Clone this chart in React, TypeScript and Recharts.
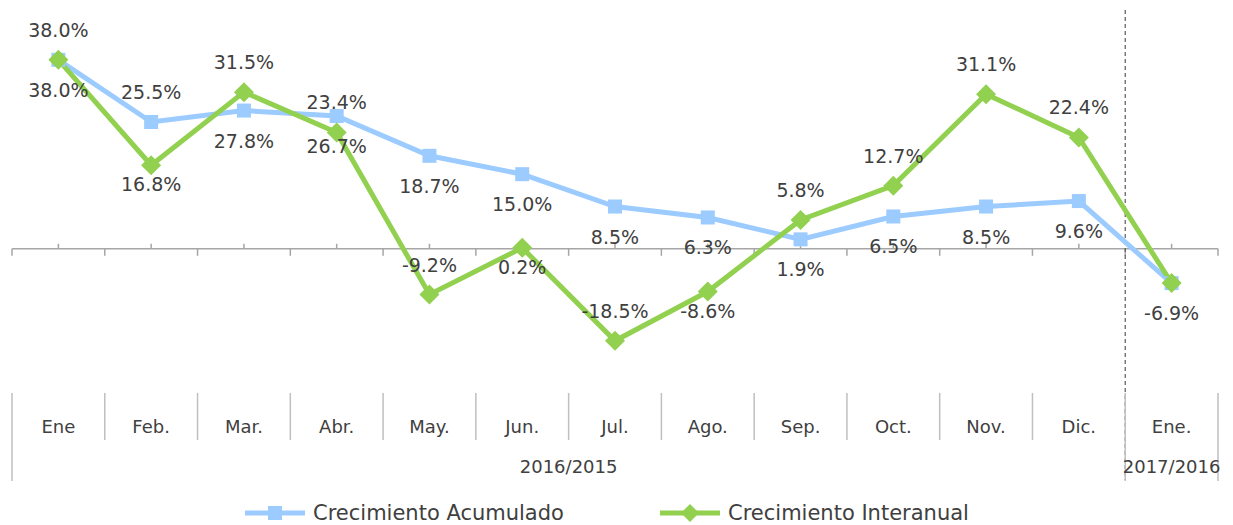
import React from 'react';
import { LineChart, Line, XAxis, YAxis, ReferenceLine, LabelList, Legend } from 'recharts';

const months = ['Ene', 'Feb.', 'Mar.', 'Abr.', 'May.', 'Jun.', 'Jul.', 'Ago.', 'Sep.', 'Oct.', 'Nov.', 'Dic.', 'Ene.'];
const periods = [
  '2016/2015', '2016/2015', '2016/2015', '2016/2015', '2016/2015', '2016/2015',
  '2016/2015', '2016/2015', '2016/2015', '2016/2015', '2016/2015', '2016/2015', '2017/2016',
];
const acumulado = [38.0, 25.5, 27.8, 26.7, 18.7, 15.0, 8.5, 6.3, 1.9, 6.5, 8.5, 9.6, -6.9];
const interanual = [38.0, 16.8, 31.5, 23.4, -9.2, 0.2, -18.5, -8.6, 5.8, 12.7, 31.1, 22.4, -6.9];
// where each data label sits relative to its point
const acumuladoLabelSide = ['below', 'above', 'below', 'below', 'below', 'below', 'below', 'below', 'below', 'below', 'below', 'below', 'below'];
const interanualLabelSide = ['above', 'below', 'above', 'above', 'above', 'below', 'above', 'below', 'above', 'above', 'above', 'above', 'none'];

const data = months.map((m, i) => ({
  month: m,
  period: periods[i],
  acumulado: acumulado[i],
  interanual: interanual[i],
}));

const W = 1233;
const H = 525;
const M = { top: 25, right: 15, left: 12, bottom: 2 };
const BAND = (W - M.left - M.right) / months.length;
const FONT = '"DejaVu Sans", sans-serif';
const TEXT = '#404040';
const GRID = '#bfbfbf';
const BLUE = '#9ccbff';
const GREEN = '#92d050';

const CategoryTick = (props: any) => {
  const { x, y, index } = props;
  const left = x - BAND / 2;
  const isLast = index === months.length - 1;
  const startsGroup = index === 0 || periods[index] !== periods[index - 1];
  const endsGroup = isLast || periods[index] !== periods[index + 1];
  let groupLabel = null;
  if (endsGroup) {
    let j = index;
    while (j > 0 && periods[j - 1] === periods[index]) j--;
    const cx = x - ((index - j) * BAND) / 2;
    groupLabel = (
      <text x={cx} y={y + 68} textAnchor="middle" dominantBaseline="central" fontSize={18} fontFamily={FONT} fill={TEXT}>
        {periods[index]}
      </text>
    );
  }
  return (
    <g>
      <line x1={left} x2={left} y1={y - 5} y2={startsGroup ? y + 83 : y + 42} stroke={GRID} strokeWidth={1.5} />
      {isLast && <line x1={x + BAND / 2} x2={x + BAND / 2} y1={y - 5} y2={y + 83} stroke={GRID} strokeWidth={1.5} />}
      <text x={x} y={y + 28} textAnchor="middle" dominantBaseline="central" fontSize={18} fontFamily={FONT} fill={TEXT}>
        {months[index]}
      </text>
      {groupLabel}
    </g>
  );
};

const ZeroAxis = (props: any) => {
  const { x1, x2, y1 } = props;
  const left = Math.min(x1, x2);
  const marks = [];
  for (let i = 0; i <= months.length; i++) {
    const bx = left + i * BAND;
    marks.push(<line key={'b' + i} x1={bx} x2={bx} y1={y1} y2={y1 + 7} stroke="#a6a6a6" strokeWidth={1.5} />);
    if (i < months.length) {
      const cx = bx + BAND / 2;
      marks.push(<line key={'c' + i} x1={cx} x2={cx} y1={y1 - 5} y2={y1} stroke="#a6a6a6" strokeWidth={1.5} />);
    }
  }
  return (
    <g>
      <line x1={x1} x2={x2} y1={y1} y2={y1} stroke="#a6a6a6" strokeWidth={1.5} />
      {marks}
    </g>
  );
};

const YearDivider = (props: any) => {
  const { x1, y1, y2 } = props;
  const top = Math.min(y1, y2);
  const bottom = Math.max(y1, y2);
  return <line x1={x1} x2={x1} y1={top - 15} y2={bottom + 82} stroke="#595959" strokeWidth={1.2} strokeDasharray="4 3" />;
};

const makeLabel = (sides: string[], belowGap: number) => (props: any) => {
  const { x, y, value, index } = props;
  const side = sides[index];
  if (side === 'none') return null;
  const dy = side === 'above' ? -30 : belowGap;
  return (
    <text key={index} x={x} y={y + dy} textAnchor="middle" dominantBaseline="central" fontSize={19} fontFamily={FONT} fill={TEXT}>
      {Number(value).toFixed(1)}%
    </text>
  );
};

const SquareDot = (props: any) => {
  const { cx, cy, index } = props;
  return <rect key={'s' + index} x={cx - 7} y={cy - 7} width={14} height={14} fill={BLUE} />;
};

const DiamondDot = (props: any) => {
  const { cx, cy, index } = props;
  return <path key={'d' + index} d={`M${cx},${cy - 10}L${cx + 10},${cy}L${cx},${cy + 10}L${cx - 10},${cy}Z`} fill={GREEN} />;
};

const LegendContent = () => {
  const items = [
    { name: 'Crecimiento Acumulado', color: BLUE, left: 233, marker: <rect x={23} y={3} width={14} height={14} fill={BLUE} /> },
    { name: 'Crecimiento Interanual', color: GREEN, left: 648, marker: <path d="M30,1L39,10L30,19L21,10Z" fill={GREEN} /> },
  ];
  return (
    <div style={{ position: 'relative', height: 20 }}>
      {items.map((it) => (
        <div key={it.name} style={{ position: 'absolute', left: it.left, top: 0, display: 'flex', alignItems: 'center', height: 20 }}>
          <svg width={60} height={20}>
            <line x1={0} x2={60} y1={10} y2={10} stroke={it.color} strokeWidth={5} />
            {it.marker}
          </svg>
          <span style={{ marginLeft: 8, fontFamily: FONT, fontSize: 21, color: TEXT, whiteSpace: 'nowrap' }}>{it.name}</span>
        </div>
      ))}
    </div>
  );
};

export default function App() {
  return (
    <div style={{ position: 'absolute', left: 0, top: 0, width: W, height: H, background: '#fff' }}>
      <LineChart width={W} height={H} data={data} margin={M}>
        <XAxis
          dataKey="month"
          scale="band"
          interval={0}
          axisLine={false}
          tickLine={false}
          tickSize={0}
          tickMargin={0}
          height={105}
          tick={<CategoryTick />}
        />
        <YAxis hide domain={[-30, 45]} />
        <ReferenceLine y={0} shape={(p: any) => <ZeroAxis {...p} />} />
        <ReferenceLine x="Ene." position="start" shape={(p: any) => <YearDivider {...p} />} />
        <Legend verticalAlign="bottom" height={20} content={<LegendContent />} />
        <Line
          dataKey="acumulado"
          name="Crecimiento Acumulado"
          stroke={BLUE}
          strokeWidth={5}
          dot={(p: any) => <SquareDot {...p} />}
          activeDot={false}
          isAnimationActive={false}
        >
          <LabelList dataKey="acumulado" content={makeLabel(acumuladoLabelSide, 30)} />
        </Line>
        <Line
          dataKey="interanual"
          name="Crecimiento Interanual"
          stroke={GREEN}
          strokeWidth={5}
          dot={(p: any) => <DiamondDot {...p} />}
          activeDot={false}
          isAnimationActive={false}
        >
          <LabelList dataKey="interanual" content={makeLabel(interanualLabelSide, 19)} />
        </Line>
      </LineChart>
    </div>
  );
}
